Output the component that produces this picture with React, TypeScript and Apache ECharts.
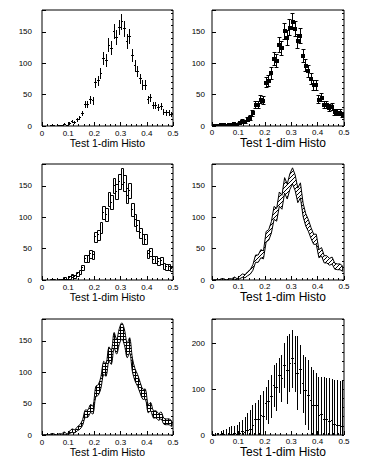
import React, { useEffect, useRef } from 'react';
import * as echarts from 'echarts';

// ---- data (50 bins from 0 to 0.5) ----
const BIN_WIDTH = 0.01;
const X_MIN = 0;
const X_MAX = 0.5;
const X_TICK = 0.1;
const counts = [
  0, 0, 0, 1, 1, 0, 1, 1, 3, 1,
  4, 7, 6, 10, 13, 20, 34, 34, 42, 40,
  69, 72, 84, 107, 104, 129, 124, 151, 141, 157,
  166, 155, 135, 143, 112, 96, 87, 75, 65, 65,
  42, 45, 33, 33, 29, 31, 22, 21, 21, 18,
];
// errors shown in the last pad
const wideErrors = [
  2, 4, 5, 8, 10, 13, 16, 18, 17, 21,
  25, 26, 34, 37, 42, 46, 35, 42, 45, 55,
  36, 48, 47, 46, 52, 38, 51, 49, 74, 63,
  63, 62, 80, 54, 63, 74, 76, 74, 77, 70,
  85, 82, 94, 91, 95, 91, 98, 99, 97, 100,
];
const Y_MAX = 185;
const Y_MAX_WIDE = 253;
const Y_MAJOR = 50;
const Y_MINOR = 10;
const Y_MAJOR_WIDE = 100;
const Y_MINOR_WIDE = 20;
const X_TITLE = 'Test 1-dim Histo';

const binCenters = counts.map((_, i) => (i + 0.5) * BIN_WIDTH);
const poissonErrors = counts.map((c) => Math.sqrt(c));

const FONT = "'Liberation Sans', Arial, Helvetica, sans-serif";

function makePattern(kind: string) {
  const s = kind === 'hatch' ? 4 : 3;
  const c = document.createElement('canvas');
  c.width = s;
  c.height = s;
  const ctx = c.getContext('2d')!;
  ctx.clearRect(0, 0, s, s);
  ctx.fillStyle = '#000';
  if (kind === 'hatch') {
    for (let i = 0; i < s; i++) ctx.fillRect(i, s - 1 - i, 1, 1);
  } else {
    ctx.fillRect(0, 0, s, 1);
    ctx.fillRect(0, 0, 1, s);
  }
  return { image: c.toDataURL(), repeat: 'repeat', imageWidth: s, imageHeight: s };
}

const crisp = (n: number) => Math.floor(n) + 0.5;

export default function App() {
  const ref = useRef<HTMLDivElement>(null);
  useEffect(() => {
    document.body.style.margin = '0';
    const chart = echarts.init(ref.current!, null, { renderer: 'svg' });
    const hatch = makePattern('hatch');
    const grid = makePattern('grid');

    const panels = [
      { left: 42, top: 10, width: 131, kind: 'E', col: 0 },
      { left: 212, top: 10, width: 132, kind: 'E1', col: 1 },
      { left: 42, top: 164, width: 131, kind: 'E2', col: 0 },
      { left: 212, top: 164, width: 132, kind: 'E3', col: 1 },
      { left: 42, top: 319, width: 131, kind: 'E4', col: 0 },
      { left: 212, top: 319, width: 132, kind: 'WIDE', col: 1 },
    ];
    const H = 116;

    const lineEl = (x1: number, y1: number, x2: number, y2: number) => ({
      type: 'line',
      shape: { x1, y1, x2, y2 },
      style: { stroke: '#000', lineWidth: 1 },
    });

    const makeRender = (kind: string, errs: number[]) => (params: any, api: any) => {
      const i = params.dataIndex;
      const x = api.value(0);
      const v = api.value(1);
      const e = api.value(2);
      const hw = BIN_WIDTH / 2;
      if (kind === 'E3' || kind === 'E4') {
        if (i !== 0) return null;
        const up: number[][] = [];
        const lo: number[][] = [];
        for (let k = 0; k < counts.length; k++) {
          up.push(api.coord([binCenters[k], counts[k] + errs[k]]));
          lo.push(api.coord([binCenters[k], Math.max(counts[k] - errs[k], 0)]));
        }
        const pts = up.concat(lo.reverse());
        return {
          type: 'polygon',
          shape: { points: pts, smooth: kind === 'E4' ? 0.35 : 0 },
          style: { fill: kind === 'E4' ? grid : hatch, stroke: '#000', lineWidth: 1 },
        };
      }
      if (kind === 'E' && v === 0) return null;
      if (kind === 'WIDE' && v === 0 && e === 0) return null;
      const l = api.coord([x - hw, v]);
      const r = api.coord([x + hw, v]);
      const t = api.coord([x, v + e]);
      const b = api.coord([x, v - e]);
      const cx = crisp(t[0]);
      const cy = crisp(l[1]);
      const children: any[] = [];
      if (kind === 'E2') {
        const x0 = Math.round(l[0]);
        const x1 = Math.round(r[0]);
        const y0 = Math.round(t[1]);
        const y1 = Math.round(b[1]);
        children.push({
          type: 'rect',
          shape: { x: x0 + 0.5, y: y0 + 0.5, width: x1 - x0, height: Math.max(y1 - y0, 0) },
          style: { fill: 'none', stroke: '#000', lineWidth: 1 },
        });
        children.push({
          type: 'rect',
          shape: { x: Math.floor(t[0]), y: Math.floor(l[1]), width: 1, height: 1 },
          style: { fill: '#000' },
        });
        return { type: 'group', children };
      }
      children.push(lineEl(Math.round(l[0]), cy, Math.round(r[0]), cy));
      children.push(lineEl(cx, Math.round(t[1]), cx, Math.round(b[1])));
      if (kind === 'E1') {
        children.push(lineEl(cx - 2, crisp(t[1]), cx + 2, crisp(t[1])));
        children.push(lineEl(cx - 2, crisp(b[1]), cx + 2, crisp(b[1])));
        children.push({
          type: 'rect',
          shape: { x: Math.round(t[0]) - 2, y: Math.round(l[1]) - 2, width: 4, height: 4 },
          style: { fill: '#000' },
        });
      }
      return { type: 'group', children };
    };

    const grids: any[] = [];
    const xAxes: any[] = [];
    const yAxes: any[] = [];
    const series: any[] = [];

    panels.forEach((p, i) => {
      const wide = p.kind === 'WIDE';
      const ymax = wide ? Y_MAX_WIDE : Y_MAX;
      const major = wide ? Y_MAJOR_WIDE : Y_MAJOR;
      const minor = wide ? Y_MINOR_WIDE : Y_MINOR;
      const errs = wide ? wideErrors : poissonErrors;
      grids.push({
        left: p.left,
        top: p.top,
        width: p.width,
        height: H,
        show: true,
        borderColor: '#000',
        borderWidth: 1,
        backgroundColor: 'transparent',
      });
      xAxes.push({
        type: 'value',
        gridIndex: i,
        min: X_MIN,
        max: X_MAX,
        interval: X_TICK,
        axisLine: { show: false },
        axisTick: { show: true, inside: true, length: 4, lineStyle: { color: '#000', width: 1 } },
        minorTick: { show: true, splitNumber: 5, length: 2, lineStyle: { color: '#000', width: 1 } },
        splitLine: { show: false },
        minorSplitLine: { show: false },
        axisLabel: {
          color: '#000',
          fontSize: 8,
          fontFamily: FONT,
          margin: p.col === 0 ? 3 : 2,
        },
        name: X_TITLE,
        nameLocation: 'middle',
        nameGap: p.col === 0 ? 11 : 7,
        nameTextStyle: {
          color: '#000',
          fontSize: p.col === 0 ? 10.5 : 12,
          fontFamily: FONT,
          padding: p.col === 0 ? [0, 0, 0, 0] : [0, 0, 0, 10],
        },
      });
      yAxes.push({
        type: 'value',
        gridIndex: i,
        min: 0,
        max: ymax,
        interval: major,
        axisLine: { show: false },
        axisTick: { show: true, inside: true, length: 4, lineStyle: { color: '#000', width: 1 } },
        splitLine: { show: false },
        axisLabel: {
          color: '#000',
          fontSize: 8,
          fontFamily: FONT,
          margin: p.col === 0 ? 10 : 7,
          formatter: (v: number) => (v % major === 0 ? String(v) : ''),
        },
      });
      yAxes.push({
        type: 'value',
        gridIndex: i,
        min: 0,
        max: ymax,
        interval: minor,
        axisLine: { show: false },
        axisTick: { show: true, inside: true, length: 2, lineStyle: { color: '#000', width: 1 } },
        splitLine: { show: false },
        axisLabel: { show: false },
      });
      series.push({
        type: 'custom',
        xAxisIndex: i,
        yAxisIndex: 2 * i,
        clip: true,
        silent: true,
        data: counts.map((c, k) => [binCenters[k], c, errs[k]]),
        renderItem: makeRender(p.kind, errs),
      });
    });

    chart.setOption({
      animation: false,
      backgroundColor: '#fff',
      grid: grids,
      xAxis: xAxes,
      yAxis: yAxes,
      series,
    });
    return () => chart.dispose();
  }, []);
  return (
    <div
      ref={ref}
      style={{ position: 'absolute', left: 0, top: 0, width: 387, height: 465, background: '#fff' }}
    />
  );
}
